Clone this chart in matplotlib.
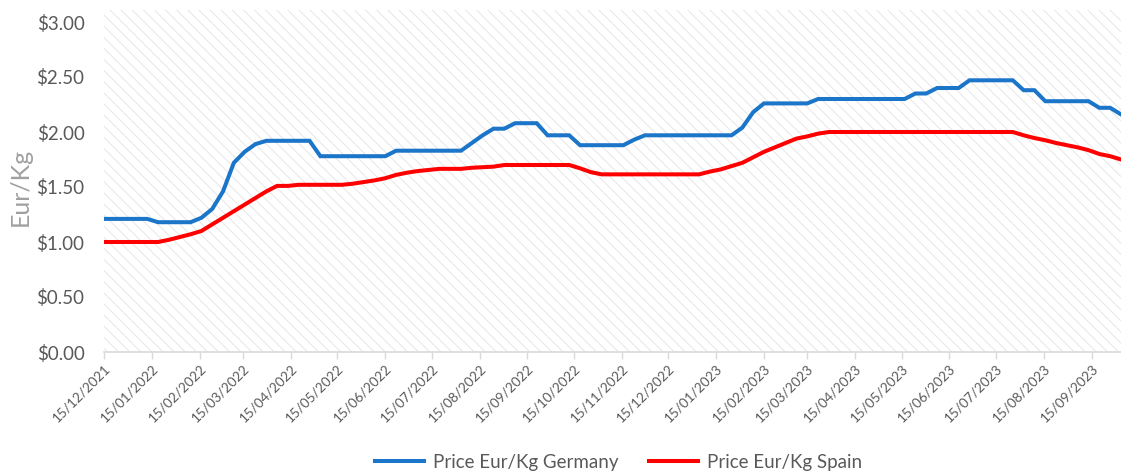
import matplotlib
matplotlib.use('Agg')
import matplotlib.pyplot as plt
import matplotlib.dates as mdates
import matplotlib.ticker as mticker
from matplotlib.patches import Rectangle
import pandas as pd

plt.rcParams['font.family'] = ['Lato', 'DejaVu Sans']
plt.rcParams['hatch.linewidth'] = 0.7

# weekly prices, one point per week from 15/12/2021
start_date = '2021-12-15'
n_weeks = 95

price_germany = [
    1.21, 1.21, 1.21, 1.21, 1.21, 1.18, 1.18, 1.18, 1.18, 1.22,
    1.30, 1.46, 1.72, 1.82, 1.89, 1.92, 1.92, 1.92, 1.92, 1.92,
    1.78, 1.78, 1.78, 1.78, 1.78, 1.78, 1.78, 1.83, 1.83, 1.83,
    1.83, 1.83, 1.83, 1.83, 1.90, 1.97, 2.03, 2.03, 2.08, 2.08,
    2.08, 1.97, 1.97, 1.97, 1.88, 1.88, 1.88, 1.88, 1.88, 1.93,
    1.97, 1.97, 1.97, 1.97, 1.97, 1.97, 1.97, 1.97, 1.97, 2.04,
    2.18, 2.26, 2.26, 2.26, 2.26, 2.26, 2.30, 2.30, 2.30, 2.30,
    2.30, 2.30, 2.30, 2.30, 2.30, 2.35, 2.35, 2.40, 2.40, 2.40,
    2.47, 2.47, 2.47, 2.47, 2.47, 2.38, 2.38, 2.28, 2.28, 2.28,
    2.28, 2.28, 2.22, 2.22, 2.16,
]

price_spain = [
    1.00, 1.00, 1.00, 1.00, 1.00, 1.00, 1.02, 1.045, 1.07, 1.10,
    1.16, 1.22, 1.28, 1.34, 1.40, 1.46, 1.51, 1.51, 1.52, 1.52,
    1.52, 1.52, 1.52, 1.53, 1.545, 1.56, 1.58, 1.61, 1.63, 1.645,
    1.655, 1.665, 1.665, 1.665, 1.675, 1.68, 1.685, 1.70, 1.70, 1.70,
    1.70, 1.70, 1.70, 1.70, 1.67, 1.635, 1.615, 1.615, 1.615, 1.615,
    1.615, 1.615, 1.615, 1.615, 1.615, 1.615, 1.64, 1.66, 1.69, 1.72,
    1.77, 1.82, 1.86, 1.90, 1.94, 1.96, 1.985, 2.00, 2.00, 2.00,
    2.00, 2.00, 2.00, 2.00, 2.00, 2.00, 2.00, 2.00, 2.00, 2.00,
    2.00, 2.00, 2.00, 2.00, 2.00, 1.97, 1.945, 1.925, 1.90, 1.88,
    1.86, 1.835, 1.80, 1.78, 1.75,
]

dates = pd.date_range(start_date, periods=n_weeks, freq='7D')

TEXT = '#595959'

fig = plt.figure(figsize=(11.21, 4.75), dpi=100)
ax = fig.add_axes([104 / 1121, 1 - 352 / 475, 1 - 104 / 1121, 330 / 475])

# hatched plot area background
bg = Rectangle((0, 0), 1, 1 + 12 / 330, transform=ax.transAxes, facecolor='white',
               edgecolor='#e6e6e6', hatch='\\\\\\', linewidth=0, zorder=0, clip_on=False)
ax.add_patch(bg)

ax.plot(dates, price_germany, color='#1b75c9', linewidth=2.9, label='Price Eur/Kg Germany',
        solid_joinstyle='miter', zorder=3)
ax.plot(dates, price_spain, color='#ff0000', linewidth=2.9, label='Price Eur/Kg Spain',
        solid_joinstyle='miter', zorder=3)

ax.set_xlim(dates[0], dates[-1])
ax.set_ylim(0, 3.0)
ax.yaxis.set_major_locator(mticker.MultipleLocator(0.5))
ax.yaxis.set_major_formatter(mticker.FuncFormatter(lambda v, p: '${:.2f}'.format(v)))

ax.xaxis.set_major_locator(mdates.MonthLocator(bymonthday=15))
ax.xaxis.set_major_formatter(mdates.DateFormatter('%d/%m/%Y'))

for s in ['top', 'right', 'left']:
    ax.spines[s].set_visible(False)
ax.spines['bottom'].set_color('#d9d9d9')
ax.spines['bottom'].set_linewidth(1.2)
ax.spines['bottom'].set_zorder(4)

ax.tick_params(axis='y', length=0, pad=14, labelsize=13.5, labelcolor=TEXT)
ax.tick_params(axis='x', length=5, width=1, color='#d9d9d9', pad=2, labelsize=9.8,
               labelcolor=TEXT)
for lbl in ax.get_xticklabels():
    lbl.set_rotation(45)
    lbl.set_ha('right')
    lbl.set_rotation_mode('anchor')

ax.set_ylabel('Eur/Kg', fontsize=18, color='#a0a0a0')
ax.yaxis.set_label_coords(-0.071, 0.5)
ax.patch.set_alpha(0)

fig.legend(loc='center', bbox_to_anchor=(0.552, 12.5 / 475), ncol=2, frameon=False,
           fontsize=13.5, labelcolor=TEXT, handlelength=2.6, columnspacing=1.6,
           handletextpad=0.5)

plt.savefig('out.png', dpi=100)
plt.close()
